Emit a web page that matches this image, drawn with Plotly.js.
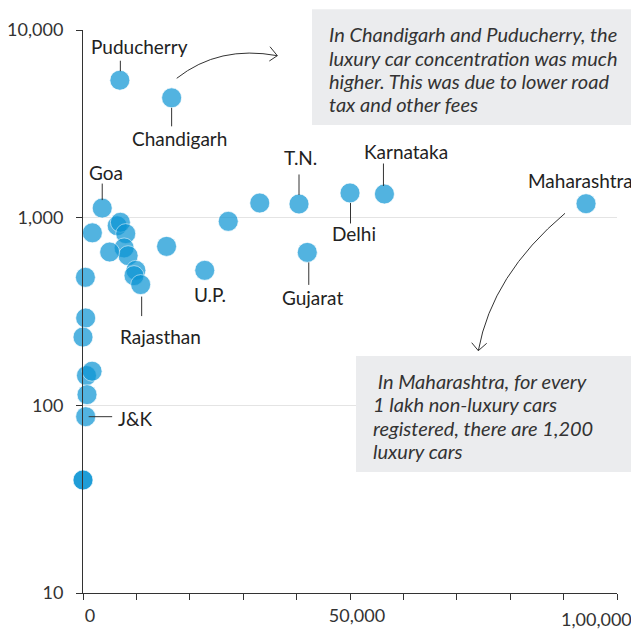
<!DOCTYPE html>
<html><head><meta charset="utf-8">
<script src="https://cdn.plot.ly/plotly-3.0.1.min.js"></script>
<style>html,body{margin:0;padding:0;background:#fff;} #chart{width:631px;height:629px;}</style>
</head><body><div id="chart"></div>
<script>
// ---- data ----
const stateNames = ['Puducherry','Chandigarh','Goa','','','','','','','','','','Rajasthan','','U.P.','','','T.N.','Gujarat','Delhi','Karnataka','Maharashtra','','','','','','','J&K','',''];
const xValues = [6900,16600,3600,1750,6400,7000,8000,7700,8450,5000,9900,9550,10800,15650,22800,27200,33100,40450,42000,50000,56450,94200,450,500,0,650,1700,750,500,0,0];
const yValues = [5400,4350,1125,830,905,945,822,690,627,656,524,491,440,703,524,956,1197,1183,653,1354,1337,1187,481,292,231,144,152,114,87,40,40];
const xTickVals = [0,10000,20000,30000,40000,50000,60000,70000,80000,90000,100000];
const xTickText = ['0','','','','','50,000','','','','','1,00,000'];
const yTickVals = [10,100,1000,10000];
const yTickText = ['10','100','1,000','10,000'];
const note1 = ['In Chandigarh and Puducherry, the','luxury car concentration was much','higher. This was due to lower road','tax and other fees'];
const note2 = ['\u00a0In Maharashtra, for every','1 lakh non-luxury cars','registered, there are 1,200','luxury cars'];

// ---- label placement (pixels: dx right, dy up; leader line: [dx, gap from point, end distance], dir up/down/right) ----
const labelStyle = {
  'Puducherry': {dx:20, dy:34, line:{dir:'up', sx:0.5, from:9, to:21}},
  'Chandigarh': {dx:8, dy:-41, line:{dir:'down', sx:0, from:10, to:30}},
  'Goa': {dx:4, dy:36, line:{dir:'up', sx:0, from:8, to:26}},
  'T.N.': {dx:1, dy:46, line:{dir:'up', sx:0, from:9, to:31}},
  'Karnataka': {dx:22, dy:43, line:{dir:'up', sx:-1, from:8, to:32}},
  'Maharashtra': {dx:-6, dy:23, line:null},
  'Delhi': {dx:4, dy:-41, line:{dir:'down', sx:0.5, from:10, to:32}},
  'Gujarat': {dx:5, dy:-45, line:{dir:'down', sx:1.5, from:10, to:34}},
  'U.P.': {dx:5, dy:-24, line:null},
  'Rajasthan': {dx:20, dy:-51.5, line:{dir:'down', sx:1, from:12, to:33}},
  'J&K': {dx:50, dy:-2, line:{dir:'right', sx:0, from:3, to:28}}
};

const W = 631, H = 629, L = 83, R = 14, T = 30, B = 36;
const PW = W - L - R, PH = H - T - B;
const px = v => (v - L) / PW;
const py = v => (T + PH - v) / PH;

const FONT = 'Lato, "Open Sans", sans-serif';
const annotations = [];
const shapes = [];

stateNames.forEach((name, i) => {
  if (!name) return;
  const s = labelStyle[name];
  annotations.push({
    x: xValues[i], y: Math.log10(yValues[i]), xref: 'x', yref: 'y',
    text: name.replace('&','&amp;'), showarrow: false,
    xanchor: 'center', yanchor: 'middle', xshift: s.dx, yshift: s.dy,
    font: {family: FONT, size: 19, color: '#222'}
  });
  const ln = s.line;
  if (ln) {
    const ax = ln.dir === 'right' ? ln.to : 0;
    const ay = ln.dir === 'up' ? -ln.to : (ln.dir === 'down' ? ln.to : 0);
    annotations.push({
      x: xValues[i], y: Math.log10(yValues[i]), xref: 'x', yref: 'y',
      text: '', showarrow: true, arrowhead: 0, arrowwidth: 1, arrowcolor: '#333',
      ax: ax, ay: ay, standoff: ln.from, startstandoff: 0, xshift: ln.sx
    });
  }
});

// last x tick label, kept inside the page edge
annotations.push({
  x: xTickVals[xTickVals.length-1], y: 0, xref: 'x', yref: 'paper',
  text: xTickText[xTickText.length-1], showarrow: false,
  xanchor: 'center', yanchor: 'top', xshift: -21, yshift: -13,
  font: {family: FONT, size: 18, color: '#333'}
});

// note boxes
shapes.push({type:'rect', xref:'paper', yref:'paper', x0:px(312), x1:px(645), y0:py(9.3), y1:py(125),
  fillcolor:'#ebecee', line:{width:0}, layer:'above'});
shapes.push({type:'rect', xref:'paper', yref:'paper', x0:px(356), x1:px(645), y0:py(356), y1:py(472),
  fillcolor:'#ebecee', line:{width:0}, layer:'above'});
const note1Y = [34, 57.7, 81, 104.3];
const note2Y = [381, 404.3, 427.7, 451];
note1.forEach((t, k) => annotations.push({x:px(327), y:py(note1Y[k]), xref:'paper', yref:'paper', xanchor:'left', yanchor:'middle',
  text: t, showarrow:false, font:{family:FONT, size:20, color:'#333', style:'italic'}}));
note2.forEach((t, k) => annotations.push({x:px(371), y:py(note2Y[k]), xref:'paper', yref:'paper', xanchor:'left', yanchor:'middle',
  text: t, showarrow:false, font:{family:FONT, size:20, color:'#333', style:'italic'}}));

// curved arrows
const P = (x,y) => px(x).toFixed(4) + ',' + py(y).toFixed(4);
shapes.push({type:'path', xref:'paper', yref:'paper', layer:'above',
  path:'M' + P(176.7,78.3) + ' Q' + P(219,45) + ' ' + P(277.3,55.7), line:{color:'#333', width:1}});
shapes.push({type:'path', xref:'paper', yref:'paper', layer:'above',
  path:'M' + P(270,46.7) + ' L' + P(277.3,55.7) + ' L' + P(269.3,61), line:{color:'#333', width:1}});
shapes.push({type:'path', xref:'paper', yref:'paper', layer:'above',
  path:'M' + P(565,213.3) + ' Q' + P(492,275) + ' ' + P(478.3,350.7), line:{color:'#333', width:1}});
shapes.push({type:'path', xref:'paper', yref:'paper', layer:'above',
  path:'M' + P(471.7,342.7) + ' L' + P(478.3,350.7) + ' L' + P(486.7,343.3), line:{color:'#333', width:1}});

const trace = {
  type: 'scatter', mode: 'markers', x: xValues, y: yValues, cliponaxis: false,
  marker: {size: 20, color: '#0a94d4', opacity: 0.7, line: {color: 'rgba(255,255,255,0.7)', width: 1}},
  hoverinfo: 'skip'
};

const layout = {
  width: W, height: H,
  margin: {l: L, r: R, t: T, b: B, pad: 0},
  paper_bgcolor: '#fff', plot_bgcolor: '#fff',
  font: {family: FONT, size: 18, color: '#333'},
  showlegend: false, hovermode: false,
  xaxis: {range: [0, 100000], tickvals: xTickVals, ticktext: xTickText.map((t,i)=> i===xTickText.length-1 ? '' : t),
    ticks: 'outside', ticklen: 6, tickcolor: '#333', tickwidth: 1,
    showline: true, linecolor: '#333', linewidth: 1, showgrid: false, zeroline: false,
    tickfont: {family: FONT, size: 18, color: '#333'}, ticklabelshift: 7, fixedrange: true},
  yaxis: {type: 'log', range: [1, 4], tickvals: yTickVals, ticktext: yTickText,
    ticks: 'outside', ticklen: 6, tickcolor: '#333', tickwidth: 1, ticklabelstandoff: 9,
    showline: true, linecolor: '#333', linewidth: 1, showgrid: true, gridcolor: '#e4e4e4', gridwidth: 1.5,
    zeroline: false, tickfont: {family: FONT, size: 18, color: '#333'}, fixedrange: true},
  annotations: annotations,
  shapes: shapes
};

Plotly.newPlot('chart', [trace], layout, {displayModeBar: false, staticPlot: true});
</script>
</body></html>
